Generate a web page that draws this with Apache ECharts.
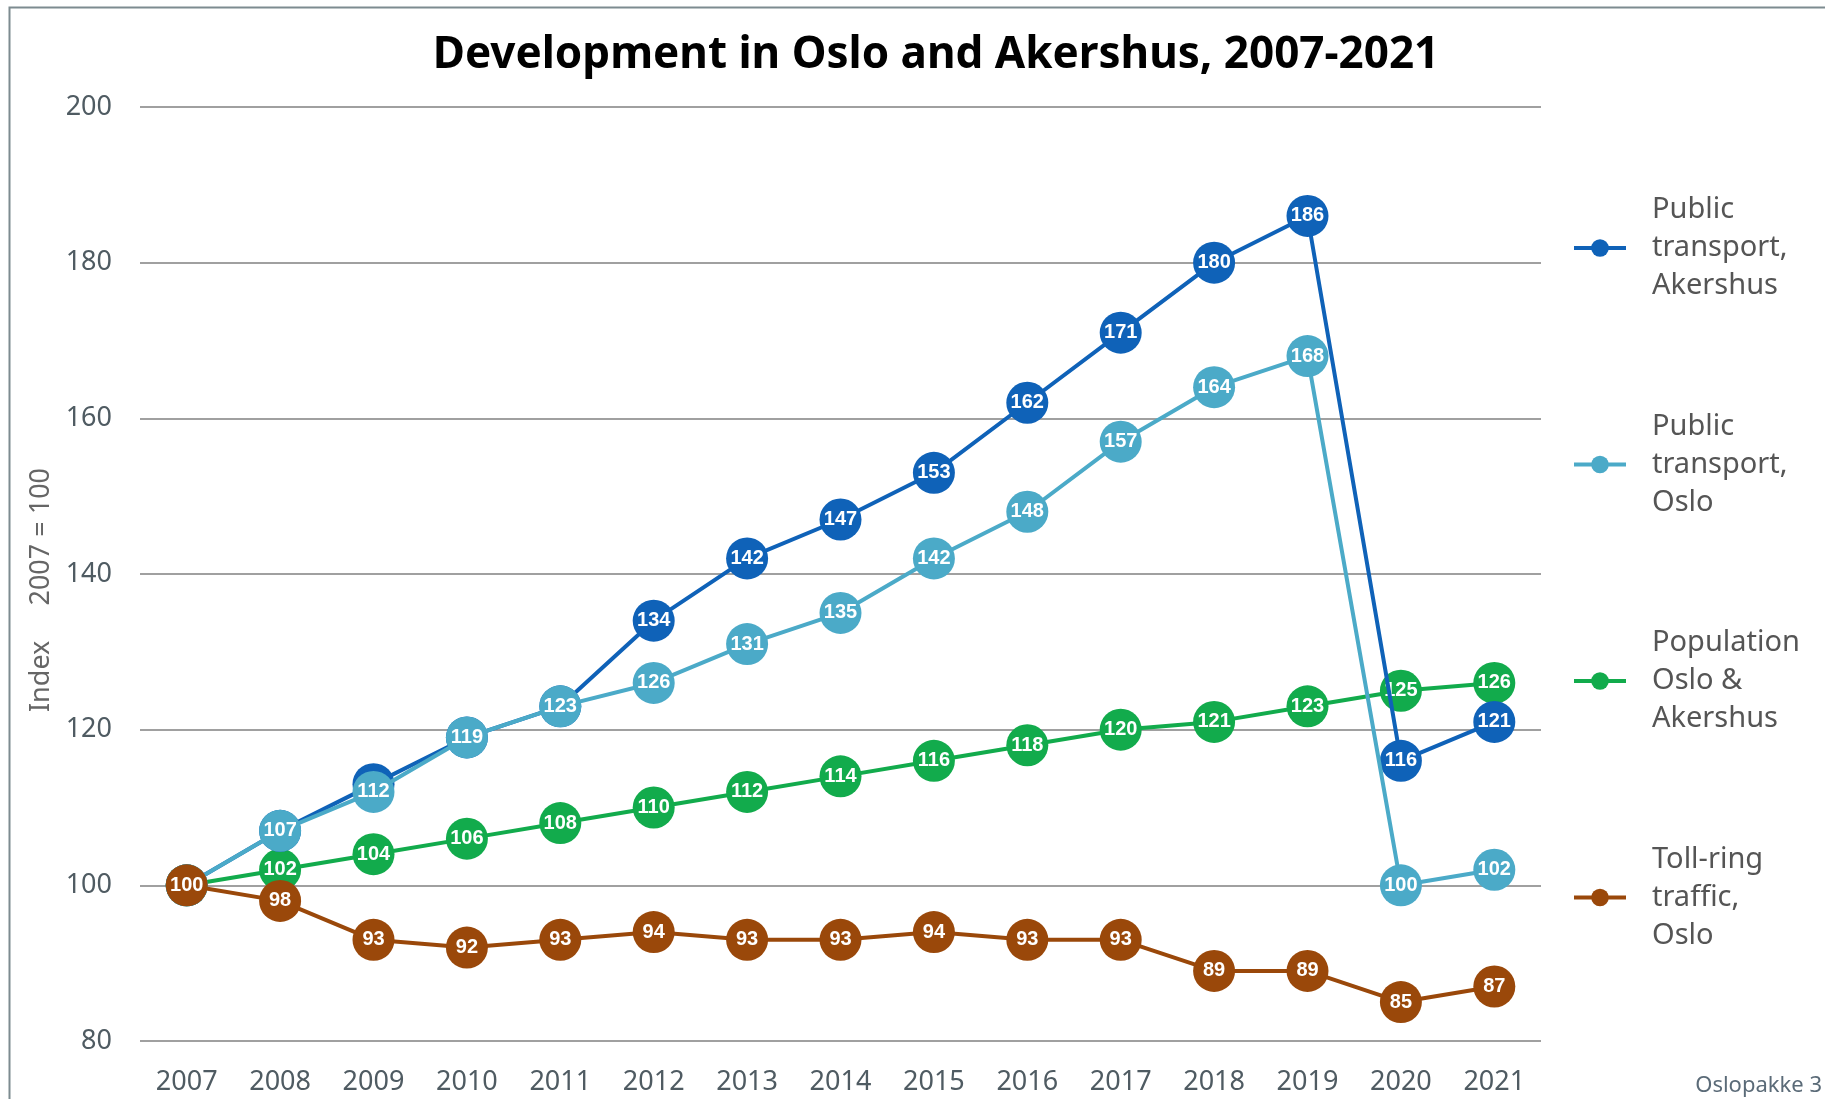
<!DOCTYPE html>
<html>
<head>
<meta charset="utf-8">
<script src="https://cdn.jsdelivr.net/npm/echarts@6/dist/echarts.min.js"></script>
<style>
html,body{margin:0;padding:0;background:#fff;}
#chart{width:1825px;height:1099px;}
</style>
</head>
<body>
<div id="chart"></div>
<script>
const years = ['2007','2008','2009','2010','2011','2012','2013','2014','2015','2016','2017','2018','2019','2020','2021'];
const ptAkershus = [100,107,113,119,123,134,142,147,153,162,171,180,186,116,121];
const ptOslo = [100,107,112,119,123,126,131,135,142,148,157,164,168,100,102];
const population = [100,102,104,106,108,110,112,114,116,118,120,121,123,125,126];
const tollRing = [100,98,93,92,93,94,93,93,94,93,93,89,89,85,87];
const seriesNames = ['Public\ntransport,\nAkershus','Public\ntransport,\nOslo','Population\nOslo &\nAkershus','Toll-ring\ntraffic,\nOslo'];
const colors = ['#0F62B8','#4BAAC8','#12AB4C','#9A480A'];

const chart = echarts.init(document.getElementById('chart'));
const labelFont = '"Liberation Sans Narrow","Liberation Sans",sans-serif';
function mk(name, data, color, z){
  return {
    name: name, type: 'line', data: data, z: z,
    symbol: 'circle', symbolSize: 42,
    lineStyle: {color: color, width: 4},
    itemStyle: {color: color},
    label: {show: true, position: 'inside', color: '#fff', fontWeight: 'bold', fontSize: 20, fontFamily: labelFont},
    emphasis: {disabled: true},
    animation: false
  };
}
chart.setOption({
  animation: false,
  title: {
    text: 'Development in Oslo and Akershus, 2007-2021',
    left: 931, top: 28, textAlign: 'center',
    textStyle: {fontSize: 44, fontWeight: 'bold', color: '#000', fontFamily: '"Noto Sans",sans-serif'}
  },
  grid: {left: 140, right: 284, top: 107, bottom: 58},
  legend: {
    orient: 'vertical', left: 1567, top: 186,
    itemWidth: 52, itemHeight: 22, itemGap: 102.5,
    data: seriesNames,
    lineStyle: {width: 4},
    textStyle: {fontSize: 29, lineHeight: 38, color: '#555', fontFamily: '"Noto Sans",sans-serif', padding: [0,0,0,21]},
    selectedMode: false
  },
  xAxis: {
    type: 'category', data: years, boundaryGap: true,
    axisLine: {show: false}, axisTick: {show: false},
    axisLabel: {fontSize: 27, color: '#4f5b62', margin: 28, fontFamily: '"Noto Sans",sans-serif'}
  },
  yAxis: {
    type: 'value', min: 80, max: 200, interval: 20,
    name: 'Index     2007 = 100', nameLocation: 'middle', nameGap: 84, nameRotate: 90,
    nameTextStyle: {fontSize: 27, color: '#666', fontFamily: '"Noto Sans",sans-serif', padding: [0, 32, 0, 0]},
    axisLine: {show: false}, axisTick: {show: false},
    axisLabel: {fontSize: 27, color: '#4f5b62', margin: 28, fontFamily: '"Noto Sans",sans-serif'},
    splitLine: {lineStyle: {color: '#a0a0a0', width: 2}}
  },
  series: [
    mk(seriesNames[2], population, colors[2], 2),
    mk(seriesNames[0], ptAkershus, colors[0], 3),
    mk(seriesNames[1], ptOslo, colors[1], 4),
    mk(seriesNames[3], tollRing, colors[3], 5)
  ],
  graphic: [
    {type: 'rect', left: 7, top: 5, shape: {width: 1900, height: 1200}, style: {fill: 'none', stroke: '#7d8b90', lineWidth: 2}, silent: true, z: 100},
    {type: 'text', right: 3, top: 1075, style: {text: 'Oslopakke 3', fontSize: 22, fill: '#5b6b78', fontFamily: '"Noto Sans",sans-serif'}, silent: true}
  ]
});
</script>
</body>
</html>
